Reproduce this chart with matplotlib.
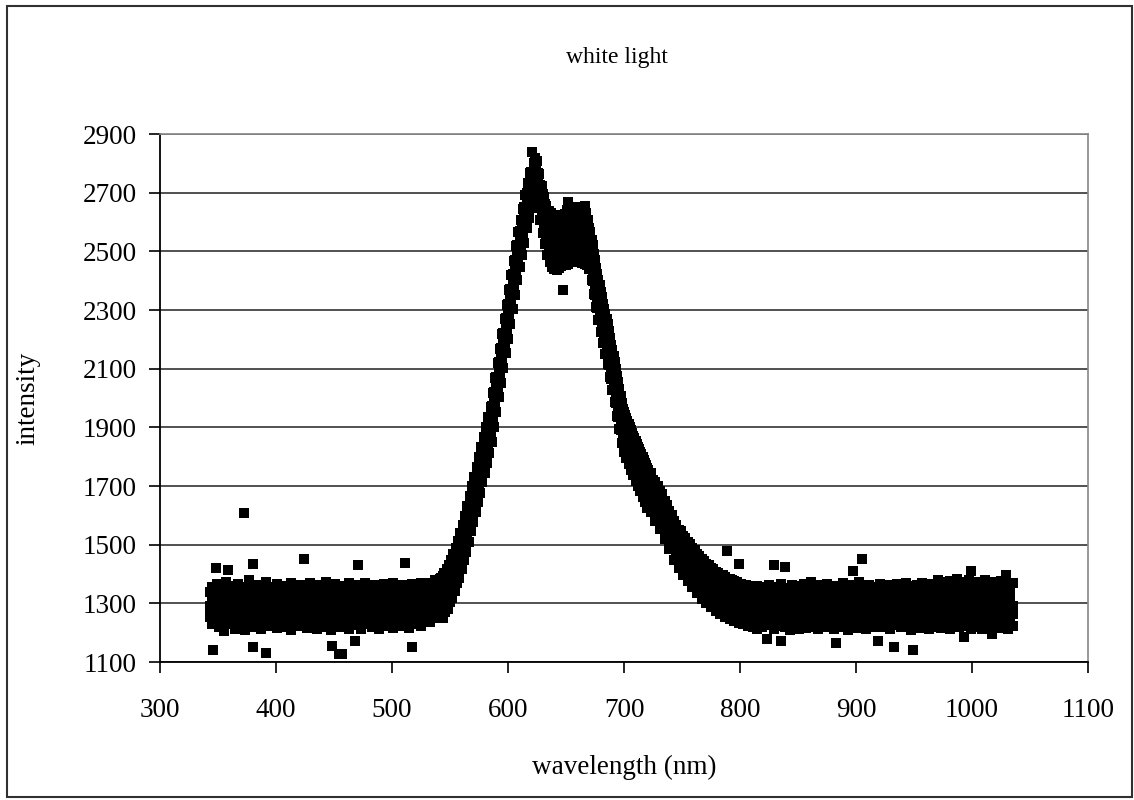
import numpy as np
import matplotlib
matplotlib.use("Agg")
import matplotlib.pyplot as plt
from matplotlib.patches import Rectangle

plt.rcParams['font.family'] = ['Liberation Serif', 'DejaVu Serif']

# === DATA (3 readings per wavelength + 1 extra) ===
left_wl = [
    343, 345, 347, 349, 351, 353, 355, 357, 359, 361,
    363, 365, 367, 369, 371, 373, 375, 377, 379, 381,
    383, 385, 387, 389, 391, 393, 395, 397, 399, 401,
    403, 405, 407, 409, 411, 413, 415, 417, 419, 421,
    423, 425, 427, 429, 431, 433, 435, 437, 439, 441,
    443, 445, 447, 449, 451, 453, 455, 457, 459, 461,
    463, 465, 467, 469, 471, 473, 475, 477, 479, 481,
    483, 485, 487, 489, 491, 493, 495, 497, 499, 501,
    503, 505, 507, 509, 511, 513, 515, 517, 519, 521,
    523, 525, 527, 529, 531, 533, 535, 537, 539, 541,
]
left_counts = [
    1255, 1290, 1340, 1230, 1300, 1355, 1262, 1278, 1330, 1240, 1310, 1365, 1220, 1285, 1345,
    1250, 1296, 1338, 1205, 1270, 1352, 1246, 1305, 1372, 1228, 1288, 1334, 1260, 1312, 1360,
    1236, 1281, 1326, 1214, 1294, 1348, 1252, 1276, 1366, 1232, 1302, 1340, 1244, 1289, 1357,
    1209, 1270, 1330, 1257, 1315, 1346, 1226, 1284, 1378, 1240, 1298, 1336, 1218, 1279, 1354,
    1261, 1306, 1342, 1235, 1287, 1362, 1212, 1273, 1328, 1250, 1300, 1350, 1228, 1292, 1372,
    1245, 1281, 1338, 1222, 1309, 1356, 1256, 1290, 1332, 1234, 1268, 1348, 1215, 1296, 1365,
    1248, 1304, 1340, 1230, 1283, 1354, 1262, 1297, 1330, 1221, 1275, 1359, 1242, 1310, 1344,
    1208, 1286, 1370, 1253, 1299, 1337, 1236, 1278, 1352, 1224, 1305, 1341, 1258, 1291, 1363,
    1232, 1270, 1335, 1246, 1301, 1357, 1216, 1284, 1345, 1240, 1295, 1368, 1226, 1279, 1333,
    1255, 1308, 1350, 1212, 1288, 1361, 1249, 1274, 1339, 1234, 1303, 1356, 1220, 1290, 1346,
    1257, 1282, 1372, 1238, 1306, 1338, 1210, 1276, 1353, 1245, 1298, 1344, 1228, 1285, 1365,
    1251, 1300, 1332, 1218, 1272, 1349, 1241, 1309, 1360, 1230, 1288, 1340, 1260, 1295, 1356,
    1214, 1280, 1370, 1247, 1303, 1342, 1226, 1277, 1351, 1254, 1298, 1364, 1236, 1286, 1338,
    1211, 1306, 1358, 1243, 1281, 1345, 1229, 1294, 1371, 1258, 1274, 1336, 1233, 1301, 1353,
    1219, 1287, 1343, 1250, 1296, 1362, 1237, 1279, 1334, 1213, 1308, 1357, 1246, 1290, 1348,
    1224, 1283, 1366, 1255, 1299, 1339, 1232, 1275, 1352, 1241, 1304, 1345, 1217, 1286, 1369,
    1252, 1297, 1337, 1227, 1280, 1355, 1244, 1306, 1347, 1222, 1289, 1362, 1259, 1300, 1341,
    1235, 1284, 1358, 1215, 1295, 1349, 1248, 1309, 1366, 1230, 1287, 1342, 1256, 1302, 1360,
    1238, 1291, 1350, 1224, 1305, 1371, 1252, 1296, 1344, 1240, 1310, 1362, 1258, 1301, 1355,
    1236, 1315, 1368, 1262, 1306, 1352, 1250, 1320, 1378, 1270, 1312, 1365, 1264, 1325, 1382,
]
left_extra = [
    1264, 1322, 1259, 1327, 1268, 1318, 1261, 1331, 1266, 1320,
    1257, 1325, 1263, 1316, 1269, 1329, 1260, 1323, 1265, 1319,
    1258, 1326, 1267, 1321, 1262, 1330, 1256, 1317, 1264, 1324,
    1270, 1320, 1259, 1328, 1263, 1318, 1266, 1325, 1261, 1322,
    1268, 1316, 1257, 1329, 1265, 1321, 1260, 1327, 1264, 1319,
    1269, 1324, 1258, 1318, 1262, 1330, 1266, 1320, 1256, 1326,
    1263, 1322, 1267, 1317, 1261, 1328, 1265, 1321, 1259, 1325,
    1264, 1319, 1268, 1327, 1257, 1323, 1262, 1318, 1266, 1329,
    1260, 1324, 1270, 1320, 1263, 1326, 1267, 1331, 1265, 1328,
    1272, 1335, 1276, 1330, 1280, 1338, 1284, 1345, 1290, 1350,
]

peak_wl = [
    542, 543, 544, 545, 546, 547, 548, 549, 550, 551,
    552, 553, 554, 555, 556, 557, 558, 559, 560, 561,
    562, 563, 564, 565, 566, 567, 568, 569, 570, 571,
    572, 573, 574, 575, 576, 577, 578, 579, 580, 581,
    582, 583, 584, 585, 586, 587, 588, 589, 590, 591,
    592, 593, 594, 595, 596, 597, 598, 599, 600, 601,
    602, 603, 604, 605, 606, 607, 608, 609, 610, 611,
    612, 613, 614, 615, 616, 617, 618, 619, 620, 621,
    622, 623, 624, 625, 626, 627, 628, 629, 630, 631,
    632, 633, 634, 635, 636, 637, 638, 639, 640, 641,
    642, 643, 644, 645, 646, 647, 648, 649, 650, 651,
    652, 653, 654, 655, 656, 657, 658, 659, 660, 661,
    662, 663, 664, 665, 666, 667, 668, 669, 670, 671,
    672, 673, 674, 675, 676, 677, 678, 679, 680, 681,
    682, 683, 684, 685, 686, 687, 688, 689, 690, 691,
    692, 693, 694, 695, 696, 697, 698, 699, 700, 701,
    702, 703, 704, 705, 706, 707, 708, 709, 710, 711,
    712, 713, 714, 715, 716, 717, 718, 719, 720, 721,
]
peak_counts = [
    1262, 1334, 1386, 1290, 1312, 1371, 1251, 1347, 1392, 1296, 1325, 1404, 1270, 1361, 1384,
    1308, 1338, 1418, 1282, 1372, 1410, 1321, 1350, 1429, 1304, 1389, 1426, 1340, 1366, 1447,
    1318, 1404, 1439, 1361, 1385, 1468, 1342, 1426, 1458, 1378, 1408, 1488, 1368, 1447, 1479,
    1402, 1430, 1512, 1388, 1476, 1506, 1430, 1458, 1539, 1416, 1501, 1532, 1458, 1484, 1566,
    1448, 1533, 1560, 1488, 1516, 1598, 1476, 1566, 1596, 1524, 1550, 1632, 1510, 1598, 1630,
    1556, 1584, 1666, 1546, 1632, 1664, 1590, 1618, 1699, 1578, 1664, 1698, 1624, 1652, 1732,
    1612, 1698, 1730, 1658, 1684, 1766, 1646, 1732, 1762, 1690, 1718, 1800, 1676, 1766, 1796,
    1724, 1750, 1834, 1712, 1798, 1830, 1756, 1786, 1866, 1744, 1832, 1864, 1790, 1818, 1900,
    1778, 1866, 1896, 1824, 1852, 1934, 1812, 1898, 1930, 1856, 1886, 1968, 1850, 1940, 1972,
    1906, 1934, 2018, 1902, 1990, 2022, 1956, 1984, 2068, 1952, 2040, 2072, 2006, 2034, 2118,
    2002, 2090, 2122, 2056, 2084, 2168, 2052, 2140, 2172, 2106, 2134, 2218, 2102, 2190, 2222,
    2156, 2184, 2268, 2152, 2240, 2272, 2206, 2234, 2318, 2202, 2290, 2322, 2256, 2284, 2368,
    2252, 2340, 2372, 2306, 2334, 2418, 2302, 2390, 2422, 2356, 2384, 2468, 2352, 2440, 2472,
    2406, 2434, 2518, 2402, 2490, 2522, 2456, 2484, 2566, 2448, 2536, 2568, 2494, 2524, 2606,
    2488, 2576, 2608, 2534, 2564, 2646, 2530, 2618, 2650, 2580, 2610, 2692, 2578, 2664, 2698,
    2620, 2652, 2732, 2612, 2700, 2730, 2654, 2686, 2766, 2648, 2736, 2770, 2676, 2722, 2838,
    2680, 2768, 2800, 2706, 2742, 2818, 2672, 2766, 2796, 2690, 2718, 2808, 2648, 2738, 2766,
    2652, 2680, 2762, 2606, 2698, 2726, 2614, 2640, 2722, 2562, 2660, 2694, 2574, 2598, 2686,
    2524, 2630, 2662, 2536, 2568, 2656, 2486, 2600, 2630, 2502, 2540, 2636, 2464, 2578, 2612,
    2482, 2520, 2630, 2446, 2566, 2598, 2474, 2508, 2624, 2440, 2556, 2590, 2468, 2498, 2616,
    2438, 2552, 2584, 2472, 2496, 2622, 2444, 2548, 2580, 2476, 2504, 2618, 2450, 2560, 2588,
    2368, 2492, 2624, 2456, 2556, 2590, 2480, 2510, 2628, 2452, 2568, 2596, 2486, 2514, 2640,
    2458, 2572, 2668, 2490, 2520, 2636, 2462, 2578, 2604, 2494, 2526, 2646, 2466, 2582, 2610,
    2498, 2528, 2644, 2470, 2584, 2614, 2500, 2530, 2650, 2468, 2586, 2612, 2496, 2524, 2642,
    2464, 2582, 2610, 2494, 2520, 2646, 2460, 2578, 2606, 2490, 2518, 2640, 2458, 2574, 2655,
    2484, 2512, 2630, 2452, 2566, 2598, 2470, 2498, 2606, 2440, 2540, 2580, 2444, 2476, 2566,
    2402, 2504, 2540, 2398, 2430, 2520, 2356, 2458, 2490, 2352, 2384, 2470, 2310, 2410, 2444,
    2306, 2336, 2424, 2266, 2368, 2402, 2266, 2296, 2384, 2226, 2328, 2362, 2226, 2256, 2344,
    2186, 2288, 2322, 2186, 2216, 2304, 2150, 2250, 2286, 2152, 2184, 2270, 2116, 2218, 2252,
    2112, 2144, 2230, 2070, 2170, 2204, 2066, 2096, 2182, 2026, 2128, 2162, 2026, 2056, 2142,
    1986, 2088, 2122, 1982, 2014, 2100, 1940, 2042, 2076, 1936, 1968, 2054, 1894, 1996, 2030,
    1890, 1922, 2008, 1848, 1950, 1984, 1846, 1876, 1962, 1816, 1918, 1952, 1826, 1856, 1942,
    1796, 1898, 1932, 1806, 1836, 1922, 1776, 1878, 1912, 1786, 1816, 1902, 1756, 1858, 1892,
    1766, 1796, 1882, 1736, 1838, 1872, 1746, 1776, 1862, 1718, 1820, 1852, 1728, 1758, 1844,
    1700, 1802, 1834, 1710, 1740, 1826, 1682, 1784, 1816, 1690, 1722, 1808, 1662, 1764, 1798,
    1672, 1704, 1790, 1644, 1746, 1780, 1654, 1686, 1772, 1626, 1728, 1762, 1640, 1670, 1756,
]
peak_extra = [
    1300, 1352, 1312, 1366, 1322, 1378, 1334, 1390, 1346, 1404,
    1372, 1420, 1392, 1444, 1414, 1468, 1440, 1494, 1466, 1522,
    1500, 1552, 1532, 1588, 1566, 1620, 1600, 1654, 1632, 1688,
    1666, 1720, 1700, 1754, 1734, 1788, 1766, 1822, 1800, 1854,
    1834, 1888, 1882, 1924, 1908, 1972, 1958, 2022, 2010, 2072,
    2058, 2122, 2108, 2172, 2158, 2222, 2208, 2272, 2258, 2322,
    2308, 2372, 2358, 2422, 2408, 2472, 2458, 2520, 2504, 2560,
    2540, 2602, 2586, 2646, 2632, 2688, 2666, 2720, 2700, 2770,
    2722, 2786, 2730, 2760, 2700, 2722, 2654, 2686, 2618, 2646,
    2580, 2610, 2546, 2590, 2530, 2568, 2520, 2548, 2530, 2540,
    2528, 2546, 2536, 2522, 2540, 2550, 2534, 2548, 2542, 2556,
    2540, 2560, 2548, 2544, 2562, 2550, 2556, 2566, 2548, 2560,
    2550, 2562, 2544, 2556, 2536, 2548, 2528, 2540, 2500, 2520,
    2470, 2486, 2420, 2440, 2372, 2390, 2330, 2348, 2290, 2306,
    2250, 2266, 2214, 2228, 2178, 2190, 2132, 2148, 2090, 2104,
    2046, 2064, 2002, 2020, 1958, 1974, 1912, 1930, 1882, 1896,
    1862, 1878, 1842, 1858, 1822, 1838, 1802, 1818, 1784, 1800,
    1766, 1782, 1746, 1764, 1728, 1744, 1710, 1726, 1692, 1708,
]

right_wl = [
    723, 725, 727, 729, 731, 733, 735, 737, 739, 741,
    743, 745, 747, 749, 751, 753, 755, 757, 759, 761,
    763, 765, 767, 769, 771, 773, 775, 777, 779, 781,
    783, 785, 787, 789, 791, 793, 795, 797, 799, 801,
    803, 805, 807, 809, 811, 813, 815, 817, 819, 821,
    823, 825, 827, 829, 831, 833, 835, 837, 839, 841,
    843, 845, 847, 849, 851, 853, 855, 857, 859, 861,
    863, 865, 867, 869, 871, 873, 875, 877, 879, 881,
    883, 885, 887, 889, 891, 893, 895, 897, 899, 901,
    903, 905, 907, 909, 911, 913, 915, 917, 919, 921,
    923, 925, 927, 929, 931, 933, 935, 937, 939, 941,
    943, 945, 947, 949, 951, 953, 955, 957, 959, 961,
    963, 965, 967, 969, 971, 973, 975, 977, 979, 981,
    983, 985, 987, 989, 991, 993, 995, 997, 999, 1001,
    1003, 1005, 1007, 1009, 1011, 1013, 1015, 1017, 1019, 1021,
    1023, 1025, 1027, 1029, 1031, 1033, 1035,
]
right_counts = [
    1612, 1690, 1744, 1620, 1648, 1722, 1580, 1666, 1712, 1594, 1622, 1700, 1552, 1640, 1684,
    1566, 1592, 1672, 1520, 1606, 1650, 1530, 1556, 1636, 1484, 1572, 1616, 1494, 1520, 1600,
    1448, 1536, 1582, 1458, 1484, 1566, 1420, 1506, 1550, 1436, 1462, 1546, 1398, 1486, 1530,
    1414, 1440, 1524, 1376, 1464, 1510, 1392, 1418, 1502, 1354, 1442, 1488, 1372, 1398, 1482,
    1334, 1422, 1468, 1352, 1378, 1462, 1316, 1404, 1450, 1336, 1362, 1446, 1300, 1388, 1434,
    1320, 1346, 1430, 1286, 1374, 1420, 1306, 1334, 1416, 1274, 1362, 1408, 1294, 1322, 1404,
    1262, 1352, 1398, 1286, 1314, 1396, 1254, 1344, 1390, 1278, 1306, 1478, 1246, 1336, 1384,
    1270, 1298, 1380, 1240, 1328, 1376, 1262, 1290, 1374, 1234, 1320, 1434, 1256, 1284, 1366,
    1228, 1314, 1362, 1250, 1280, 1364, 1224, 1310, 1358, 1246, 1276, 1360, 1218, 1306, 1354,
    1230, 1288, 1346, 1212, 1284, 1360, 1236, 1296, 1342, 1220, 1280, 1355, 1242, 1290, 1338,
    1178, 1276, 1350, 1226, 1298, 1362, 1240, 1284, 1340, 1214, 1292, 1431, 1236, 1278, 1356,
    1222, 1300, 1344, 1172, 1286, 1366, 1244, 1294, 1336, 1218, 1280, 1424, 1232, 1302, 1352,
    1210, 1288, 1340, 1246, 1296, 1362, 1226, 1274, 1348, 1238, 1306, 1338, 1214, 1284, 1358,
    1250, 1292, 1344, 1228, 1278, 1366, 1216, 1300, 1350, 1242, 1286, 1336, 1230, 1296, 1372,
    1220, 1276, 1346, 1246, 1304, 1356, 1212, 1288, 1340, 1236, 1280, 1362, 1224, 1298, 1348,
    1250, 1284, 1338, 1218, 1294, 1366, 1240, 1272, 1352, 1228, 1302, 1342, 1214, 1286, 1360,
    1165, 1296, 1346, 1232, 1278, 1356, 1244, 1300, 1338, 1220, 1284, 1368, 1236, 1292, 1350,
    1210, 1276, 1344, 1248, 1298, 1362, 1226, 1286, 1410, 1240, 1306, 1352, 1216, 1282, 1340,
    1232, 1294, 1372, 1222, 1278, 1451, 1246, 1300, 1358, 1212, 1288, 1344, 1238, 1274, 1362,
    1226, 1296, 1350, 1250, 1284, 1338, 1218, 1302, 1356, 1172, 1280, 1346, 1234, 1292, 1366,
    1244, 1276, 1340, 1220, 1298, 1352, 1230, 1286, 1362, 1214, 1294, 1344, 1242, 1278, 1358,
    1151, 1300, 1348, 1226, 1284, 1366, 1248, 1290, 1340, 1218, 1276, 1354, 1236, 1302, 1346,
    1222, 1288, 1368, 1240, 1280, 1342, 1210, 1296, 1360, 1141, 1284, 1350, 1232, 1300, 1338,
    1246, 1278, 1364, 1216, 1292, 1348, 1238, 1286, 1370, 1224, 1298, 1344, 1250, 1280, 1358,
    1212, 1294, 1352, 1234, 1288, 1366, 1244, 1302, 1340, 1220, 1282, 1362, 1230, 1296, 1380,
    1216, 1290, 1348, 1248, 1278, 1372, 1226, 1300, 1356, 1240, 1286, 1344, 1214, 1296, 1376,
    1236, 1282, 1360, 1222, 1304, 1350, 1246, 1290, 1382, 1218, 1278, 1364, 1232, 1298, 1348,
    1185, 1286, 1372, 1242, 1300, 1358, 1224, 1282, 1380, 1212, 1294, 1410, 1236, 1288, 1366,
    1250, 1302, 1352, 1220, 1280, 1374, 1230, 1296, 1360, 1214, 1284, 1346, 1244, 1298, 1378,
    1226, 1290, 1356, 1238, 1276, 1368, 1195, 1300, 1350, 1248, 1286, 1372, 1222, 1294, 1358,
    1234, 1282, 1346, 1216, 1298, 1376, 1240, 1288, 1354, 1228, 1296, 1397, 1212, 1284, 1362,
    1236, 1300, 1350, 1224, 1290, 1368,
]
right_extra = [
    1714, 1699, 1684, 1671, 1656, 1642, 1624, 1606, 1588, 1570,
    1552, 1534, 1522, 1512, 1500, 1490, 1480, 1468, 1458, 1446,
    1438, 1428, 1420, 1410, 1404, 1396, 1390, 1382, 1378, 1370,
    1366, 1360, 1358, 1352, 1350, 1344, 1342, 1336, 1334, 1328,
    1264, 1326, 1262, 1324, 1260, 1322, 1260, 1326, 1265, 1318,
    1258, 1329, 1263, 1320, 1267, 1324, 1259, 1317, 1264, 1328,
    1261, 1321, 1266, 1325, 1257, 1319, 1262, 1327, 1268, 1323,
    1260, 1316, 1265, 1330, 1259, 1322, 1263, 1326, 1258, 1318,
    1266, 1324, 1261, 1329, 1264, 1320, 1257, 1325, 1267, 1317,
    1262, 1328, 1260, 1321, 1265, 1323, 1259, 1318, 1264, 1327,
    1261, 1320, 1268, 1324, 1258, 1316, 1263, 1329, 1266, 1322,
    1260, 1326, 1262, 1319, 1265, 1325, 1257, 1321, 1264, 1328,
    1261, 1317, 1267, 1323, 1259, 1320, 1263, 1327, 1258, 1324,
    1266, 1318, 1262, 1330, 1260, 1322, 1265, 1326, 1259, 1319,
    1264, 1328, 1261, 1321, 1267, 1324, 1258, 1317, 1263, 1329,
    1260, 1320, 1266, 1325, 1262, 1318, 1264,
]

# stray points on the left baseline
stray_wl = [372, 348, 359, 380, 424, 471, 511, 346, 391, 454, 448, 517, 468, 380, 457]
stray_counts = [1608, 1420, 1414, 1434, 1451, 1431, 1438, 1141, 1131, 1127, 1155, 1151, 1172, 1151, 1127]

x_ticks = [300, 400, 500, 600, 700, 800, 900, 1000, 1100]
y_ticks = [1100, 1300, 1500, 1700, 1900, 2100, 2300, 2500, 2700, 2900]

assert len(left_counts) == 3 * len(left_wl) and len(left_extra) == len(left_wl)
assert len(peak_counts) == 3 * len(peak_wl) and len(peak_extra) == len(peak_wl)
assert len(right_counts) == 3 * len(right_wl) and len(right_extra) == len(right_wl)
assert len(stray_counts) == len(stray_wl)

wl = np.concatenate([np.repeat(left_wl, 3), np.repeat(peak_wl, 3), np.repeat(right_wl, 3),
                     left_wl, peak_wl, right_wl, stray_wl])
counts = np.concatenate([left_counts, peak_counts, right_counts,
                         left_extra, peak_extra, right_extra, stray_counts])

# === PLOT ===
fig = plt.figure(figsize=(11.34, 8), dpi=100)
ax = fig.add_axes([160 / 1134, 138 / 800, 928 / 1134, 528 / 800])

ax.scatter(wl, counts, marker='s', s=42, color='black', linewidths=0, zorder=3)

ax.set_xlim(300, 1100)
ax.set_ylim(1100, 2900)
ax.set_xticks(x_ticks)
ax.set_yticks(y_ticks)
ax.yaxis.grid(True, color='#333333', lw=1.2)
ax.set_axisbelow(True)

for side in ['left', 'bottom']:
    ax.spines[side].set_color('black')
    ax.spines[side].set_linewidth(1.3)
for side in ['top', 'right']:
    ax.spines[side].set_color('#888888')
    ax.spines[side].set_linewidth(1.2)

ax.tick_params(axis='both', direction='out', length=8, width=1.2, labelsize=19.5)
ax.tick_params(axis='y', pad=9)
ax.tick_params(axis='x', pad=18)

fig.text(617 / 1134, 1 - 57 / 800, "white light", ha='center', va='center', fontsize=17)
fig.text(624 / 1134, 1 - 767 / 800, "wavelength (nm)", ha='center', va='center', fontsize=19.5)
fig.text(28 / 1134, 1 - 398 / 800, "intensity", ha='center', va='center',
         rotation=90, fontsize=19.5)

# outer frame
fig.patches.append(Rectangle((7 / 1134, 3 / 800), 1125 / 1134, 791 / 800,
                             transform=fig.transFigure, fill=False,
                             edgecolor='#303030', lw=1.5))

fig.savefig("out.png", dpi=100)
